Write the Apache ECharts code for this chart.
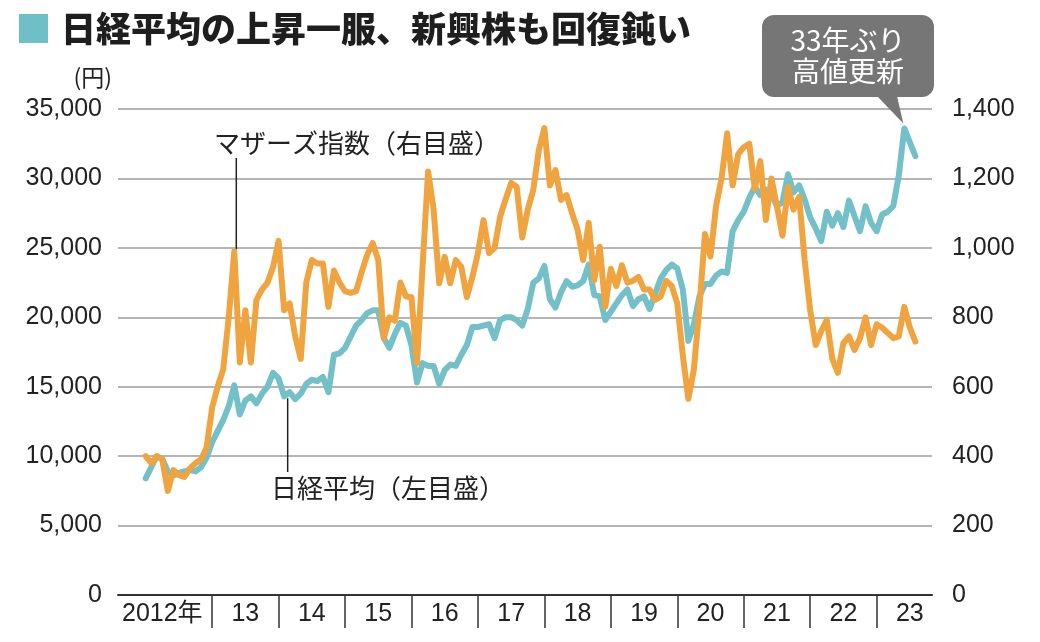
<!DOCTYPE html>
<html>
<head>
<meta charset="utf-8">
<script src="https://cdn.jsdelivr.net/npm/echarts@6/dist/echarts.min.js"></script>
<style>
html,body{margin:0;padding:0;background:#fff;}
#chart{width:1040px;height:642px;}
</style>
</head>
<body>
<div id="chart"></div>
<script>
// ---- data (monthly, from 2012-01) ----
const titleText = '日経平均の上昇一服、新興株も回復鈍い';
const nikkeiLabel = '日経平均（左目盛）';
const mothersLabel = 'マザーズ指数（右目盛）';
const calloutText = '33年ぶり\n高値更新';
const firstMonth = '2012-01';

const nikkei = [
  // 2012
  8400, 9200, 10000, 9800, 8900, 8600, 8800, 8900, 9000, 8900, 9200, 9900,
  // 2013
  11000, 11800, 12600, 13600, 15100, 13000, 14000, 14300, 13800, 14500, 15000, 16000,
  // 2014
  15600, 14300, 14600, 14100, 14500, 15200, 15500, 15400, 15700, 14600, 17300, 17400,
  // 2015
  17800, 18600, 19400, 19800, 20300, 20500, 20500, 18500, 17800, 18800, 19600, 19400,
  // 2016
  18000, 15300, 16700, 16500, 16500, 15200, 16200, 16600, 16500, 17300, 18000, 19300,
  // 2017
  19300, 19400, 19500, 18500, 19800, 20000, 20000, 19800, 19400, 20600, 22500, 22800,
  // 2018
  23700, 21300, 20700, 21800, 22600, 22200, 22300, 22600, 23800, 21600, 21500, 19800,
  // 2019
  20400, 21000, 21600, 22000, 20800, 21300, 21500, 20600, 21700, 22800, 23400, 23800,
  // 2020
  23500, 22000, 18300, 19500, 21500, 22400, 22400, 23000, 23300, 23200, 26200, 27000,
  // 2021
  27600, 28600, 29400, 28800, 29200, 28900, 28000, 28300, 30300, 29000, 29500, 28500,
  // 2022
  27200, 26400, 25500, 27600, 26600, 27500, 26500, 28400, 27300, 26200, 28000, 26800,
  // 2023
  26200, 27400, 27600, 28000, 30200, 33600, 32600, 31600
];

const mothers = [
  // 2012
  400, 380, 400, 390, 300, 360, 345, 340, 365, 380, 390, 425,
  // 2013
  540, 600, 650, 800, 990, 670, 820, 670, 850, 880, 900, 945,
  // 2014
  1020, 820, 840, 745, 680, 900, 965, 955, 955, 830, 935, 900,
  // 2015
  875, 870, 875, 930, 980, 1014, 965, 740, 800, 790, 900, 860,
  // 2016
  858, 668, 945, 1220, 1110, 898, 974, 898, 965, 945, 858, 916,
  // 2017
  985, 1080, 985, 1000, 1089, 1140, 1187, 1176, 1030, 1110, 1167, 1282,
  // 2018
  1345, 1180, 1224, 1138, 1152, 1100, 1052, 965, 1072, 907, 1003, 830,
  // 2019
  940, 890, 950, 900, 905, 916, 880, 880, 850, 860, 905, 890,
  // 2020
  840, 690, 565, 650, 830, 1040, 975, 1120, 1200, 1330, 1180, 1270,
  // 2021
  1290, 1300, 1170, 1250, 1080, 1200, 1120, 1035, 1176, 1110, 1147, 965,
  // 2022
  820, 720, 760, 792, 680, 640, 726, 745, 706, 740, 800, 720,
  // 2023
  780, 770, 755, 740, 745, 830, 770, 730
];

// axis range: 2011-08 .. 2023-11 (month categories)
const axisStart = [2011, 8];
const axisEnd = [2023, 11];
const leftTicks = [0, 5000, 10000, 15000, 20000, 25000, 30000, 35000];
const rightTicks = [0, 200, 400, 600, 800, 1000, 1200, 1400];
// annotation anchors
const mothersAnchor = '2013-05';
const nikkeiAnchor = '2014-03';

// ---- build categories ----
const pad = n => (n < 10 ? '0' : '') + n;
const months = [];
for (let y = axisStart[0], m = axisStart[1]; y < axisEnd[0] || (y === axisEnd[0] && m <= axisEnd[1]); ) {
  months.push(y + '-' + pad(m));
  m++; if (m > 12) { m = 1; y++; }
}
const offset = months.indexOf(firstMonth);
function align(arr) {
  const out = months.map(() => null);
  arr.forEach((v, i) => { out[offset + i] = v; });
  return out;
}
const nikkeiData = align(nikkei);
const mothersData = align(mothers);

const FONT = "'Liberation Sans', 'Noto Sans CJK JP', sans-serif";
const JFONT = "'Noto Sans CJK JP', 'Liberation Sans', sans-serif";
const BLUE = '#73c0c9';
const ORANGE = '#f0a43f';
const fmt = v => v.toLocaleString('en-US');

const chart = echarts.init(document.getElementById('chart'), null, {renderer: 'canvas'});
chart.setOption({
  animation: false,
  backgroundColor: '#fff',
  title: {
    text: titleText, left: 56, top: 6,
    textStyle: {fontFamily: JFONT, fontSize: 35, fontWeight: 900, color: '#1e1e1e'}
  },
  grid: {left: 118, right: 108, top: 109, bottom: 47},
  xAxis: {
    type: 'category', data: months, boundaryGap: false,
    axisLine: {lineStyle: {color: '#333', width: 2}},
    axisTick: {
      show: true, length: 33,
      interval: (i, v) => v.endsWith('-01') && v >= '2013',
      lineStyle: {color: '#333', width: 1.5}
    },
    axisLabel: {
      interval: (i, v) => v === '2012-04' || (v.endsWith('-07') && v >= '2013'),
      formatter: v => v.startsWith('2012') ? '2012年' : v.slice(2, 4),
      fontFamily: FONT, fontSize: 25, color: '#222', margin: 7
    },
    splitLine: {show: false}
  },
  yAxis: [
    {
      type: 'value', min: leftTicks[0], max: leftTicks[leftTicks.length - 1], interval: leftTicks[1] - leftTicks[0],
      position: 'left',
      name: '(円)', nameLocation: 'end', nameGap: 20,
      nameTextStyle: {fontFamily: JFONT, fontSize: 23, color: '#222', align: 'right', padding: [0, 6, 0, 0]},
      axisLine: {show: false}, axisTick: {show: false},
      axisLabel: {fontFamily: FONT, fontSize: 25, color: '#222', margin: 16, formatter: fmt},
      splitLine: {lineStyle: {color: '#9c9c9c', width: 1.5}}
    },
    {
      type: 'value', min: rightTicks[0], max: rightTicks[rightTicks.length - 1], interval: rightTicks[1] - rightTicks[0],
      position: 'right',
      axisLine: {show: false}, axisTick: {show: false},
      axisLabel: {fontFamily: FONT, fontSize: 25, color: '#222', margin: 20, formatter: fmt},
      splitLine: {show: false}
    }
  ],
  series: [
    {
      name: '日経平均', type: 'line', yAxisIndex: 0, data: nikkeiData,
      showSymbol: false, connectNulls: false,
      lineStyle: {color: BLUE, width: 6, cap: 'round', join: 'round'}
    },
    {
      name: 'マザーズ指数', type: 'line', yAxisIndex: 1, data: mothersData,
      showSymbol: false, connectNulls: false,
      lineStyle: {color: ORANGE, width: 6, cap: 'round', join: 'round'}
    }
  ]
});

// ---- annotations anchored to data ----
const mIdx = months.indexOf(mothersAnchor);
const nIdx = months.indexOf(nikkeiAnchor);
const mPt = chart.convertToPixel({xAxisIndex: 0, yAxisIndex: 1}, [mIdx, mothersData[mIdx]]);
const nPt = chart.convertToPixel({xAxisIndex: 0, yAxisIndex: 0}, [nIdx, nikkeiData[nIdx]]);
let peakIdx = 0;
nikkeiData.forEach((v, i) => { if (v != null && (nikkeiData[peakIdx] == null || v > nikkeiData[peakIdx])) peakIdx = i; });
const pPt = chart.convertToPixel({xAxisIndex: 0, yAxisIndex: 0}, [peakIdx, nikkeiData[peakIdx]]);

chart.setOption({
  graphic: [
    {type: 'rect', shape: {x: 19, y: 14, width: 29, height: 29}, style: {fill: '#6fc0c6'}},
    // Mothers label
    {type: 'text', style: {text: mothersLabel, x: 214, y: 143, verticalAlign: 'middle', fontFamily: JFONT, fontSize: 26, fill: '#222'}},
    {type: 'line', shape: {x1: mPt[0] + 2, y1: 158, x2: mPt[0] + 2, y2: mPt[1] - 2}, style: {stroke: '#222', lineWidth: 1.5}},
    // Nikkei label
    {type: 'text', style: {text: nikkeiLabel, x: 271, y: 488, verticalAlign: 'middle', fontFamily: JFONT, fontSize: 26, fill: '#222'}},
    {type: 'line', shape: {x1: nPt[0] - 2, y1: nPt[1] + 6, x2: nPt[0] - 2, y2: 472}, style: {stroke: '#222', lineWidth: 1.5}},
    // callout
    {type: 'rect', shape: {x: 762, y: 15, width: 172, height: 82, r: 12}, style: {fill: '#767676'}},
    {type: 'polygon', shape: {points: [[877, 96], [897, 96], [pPt[0] - 1, pPt[1] - 5]]}, style: {fill: '#767676'}},
    {type: 'text', style: {text: calloutText, x: 848, y: 56, align: 'center', verticalAlign: 'middle', fontFamily: JFONT, fontSize: 28, lineHeight: 31, fill: '#fff'}}
  ]
});
</script>
</body>
</html>
